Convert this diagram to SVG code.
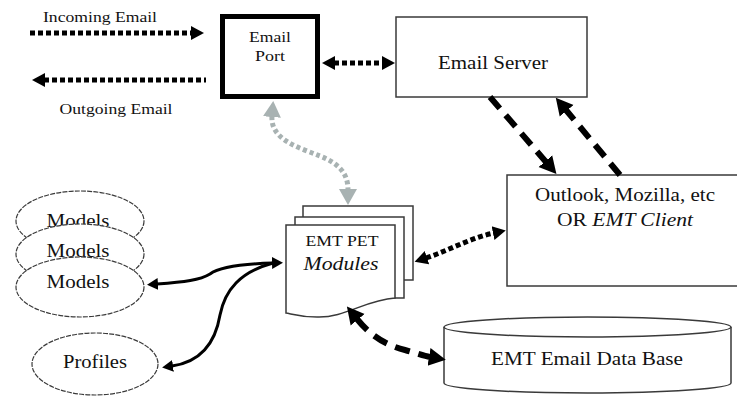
<svg xmlns="http://www.w3.org/2000/svg" width="737" height="396" viewBox="0 0 737 396">
  <style>
    text { font-family: "Liberation Serif", "Times New Roman", serif; fill: #111; text-anchor: middle; }
    .box { fill: #fff; stroke: #3a3a3a; stroke-width: 1.5; }
    .oval { fill: #fff; stroke: #3a3a3a; stroke-width: 1.2; stroke-dasharray: 5 1.2; }
    .dots { fill: none; stroke: #000; stroke-width: 5; stroke-dasharray: 5 3; }
    .grey { fill: none; stroke: #a8b2b2; stroke-width: 5; stroke-dasharray: 4 3; }
    .dash { fill: none; stroke: #000; stroke-width: 6; stroke-dasharray: 15 9; }
    .solid { fill: none; stroke: #000; stroke-width: 3; }
  </style>
  <defs>
    <marker id="head" markerUnits="userSpaceOnUse" viewBox="0 -8 14 16" markerWidth="14" markerHeight="16" refX="1" refY="0" orient="auto-start-reverse">
      <path d="M0,-7 L13,0 L0,7 Z" fill="#000"/>
    </marker>
    <marker id="headL" markerUnits="userSpaceOnUse" viewBox="0 -10 18 20" markerWidth="18" markerHeight="20" refX="1" refY="0" orient="auto-start-reverse">
      <path d="M0,-9 L17,0 L0,9 Z" fill="#000"/>
    </marker>
    <marker id="headG" markerUnits="userSpaceOnUse" viewBox="0 -10 18 20" markerWidth="18" markerHeight="20" refX="1" refY="0" orient="auto-start-reverse">
      <path d="M0,-9 L16,0 L0,9 Z" fill="#a8b2b2"/>
    </marker>
    <marker id="headS" markerUnits="userSpaceOnUse" viewBox="0 -7 12 14" markerWidth="12" markerHeight="14" refX="1" refY="0" orient="auto-start-reverse">
      <path d="M0,-6 L11,0 L0,6 Z" fill="#000"/>
    </marker>
  </defs>

  <!-- labels of the external mail flow -->
  <g id="incoming-label"><text x="100" y="22" font-size="15" textLength="114" lengthAdjust="spacingAndGlyphs">Incoming Email</text></g>
  <g id="outgoing-label"><text x="116" y="114" font-size="15" textLength="113" lengthAdjust="spacingAndGlyphs">Outgoing Email</text></g>

  <g id="email-port">
    <rect x="222.5" y="16.5" width="95" height="80" fill="#fff" stroke="#000" stroke-width="5"/>
    <text x="270" y="42" font-size="15" textLength="42" lengthAdjust="spacingAndGlyphs">Email</text>
    <text x="270" y="61" font-size="15" textLength="30" lengthAdjust="spacingAndGlyphs">Port</text>
  </g>

  <g id="email-server">
    <rect class="box" x="396" y="17" width="191" height="80"/>
    <text x="493" y="69" font-size="19" textLength="110" lengthAdjust="spacingAndGlyphs">Email Server</text>
  </g>

  <g id="mail-client">
    <rect class="box" x="507" y="175" width="240" height="111"/>
    <text x="625" y="201" font-size="19" textLength="180" lengthAdjust="spacingAndGlyphs">Outlook, Mozilla, etc</text>
    <text x="625" y="226" font-size="19" textLength="136" lengthAdjust="spacingAndGlyphs">OR <tspan font-style="italic">EMT Client</tspan></text>
  </g>

  <g id="pet-modules">
    <rect class="box" x="303" y="206" width="110" height="74"/>
    <rect class="box" x="295" y="217" width="109" height="81"/>
    <path class="box" d="M286,225 H395 V298 C365,300 345,318 317,317 C300,317 292,314 286,313 Z"/>
    <text x="342" y="246" font-size="15" textLength="73" lengthAdjust="spacingAndGlyphs">EMT PET</text>
    <text x="341" y="270" font-size="18" font-style="italic" textLength="75" lengthAdjust="spacingAndGlyphs">Modules</text>
  </g>

  <g id="email-database">
    <path class="box" d="M444,327 V383 A143.5,10 0 0 0 731,383 V327"/>
    <ellipse class="box" cx="587.5" cy="327" rx="143.5" ry="10"/>
    <text x="587" y="365" font-size="19" textLength="192" lengthAdjust="spacingAndGlyphs">EMT Email Data Base</text>
  </g>

  <g id="models">
    <ellipse class="oval" cx="80" cy="221" rx="64" ry="30"/>
    <text x="78" y="227" font-size="19" textLength="63" lengthAdjust="spacingAndGlyphs">Models</text>
    <ellipse class="oval" cx="80" cy="254" rx="64" ry="30"/>
    <text x="78" y="257" font-size="19" textLength="63" lengthAdjust="spacingAndGlyphs">Models</text>
    <ellipse class="oval" cx="80" cy="287" rx="64" ry="30"/>
    <text x="78" y="288" font-size="19" textLength="63" lengthAdjust="spacingAndGlyphs">Models</text>
  </g>

  <g id="profiles">
    <ellipse class="oval" cx="95" cy="364" rx="63" ry="31"/>
    <text x="95" y="368" font-size="19" textLength="64" lengthAdjust="spacingAndGlyphs">Profiles</text>
  </g>

  <g id="connectors">
    <path class="dots" d="M30,33 H192" marker-end="url(#head)"/>
    <path class="dots" d="M44,80 H206" marker-start="url(#head)"/>
    <path class="dots" d="M334,63 H383" marker-start="url(#head)" marker-end="url(#head)"/>
    <path class="dash" d="M490,97 L546,162" marker-end="url(#headL)"/>
    <path class="dash" d="M620,175 L566,110" marker-end="url(#headL)"/>
    <path class="grey" d="M272,116 C270,140 300,148 320,156 C340,164 348,174 348,190" marker-start="url(#headG)" marker-end="url(#headG)"/>
    <path class="dots" d="M426,258 C450,250 470,238 494,233" marker-start="url(#head)" marker-end="url(#head)"/>
    <path class="dash" d="M357,319 C370,335 385,345 405,350 C416,353 424,356 430,357" marker-start="url(#headL)" marker-end="url(#headL)"/>
    <path class="solid" d="M157,284 C185,282 200,280 210,274 C218,268 235,264 273,263" marker-start="url(#headS)" marker-end="url(#headS)"/>
    <path class="solid" d="M273,263 C240,272 225,290 220,315 C215,345 200,362 172,366" marker-end="url(#headS)"/>
  </g>
</svg>
